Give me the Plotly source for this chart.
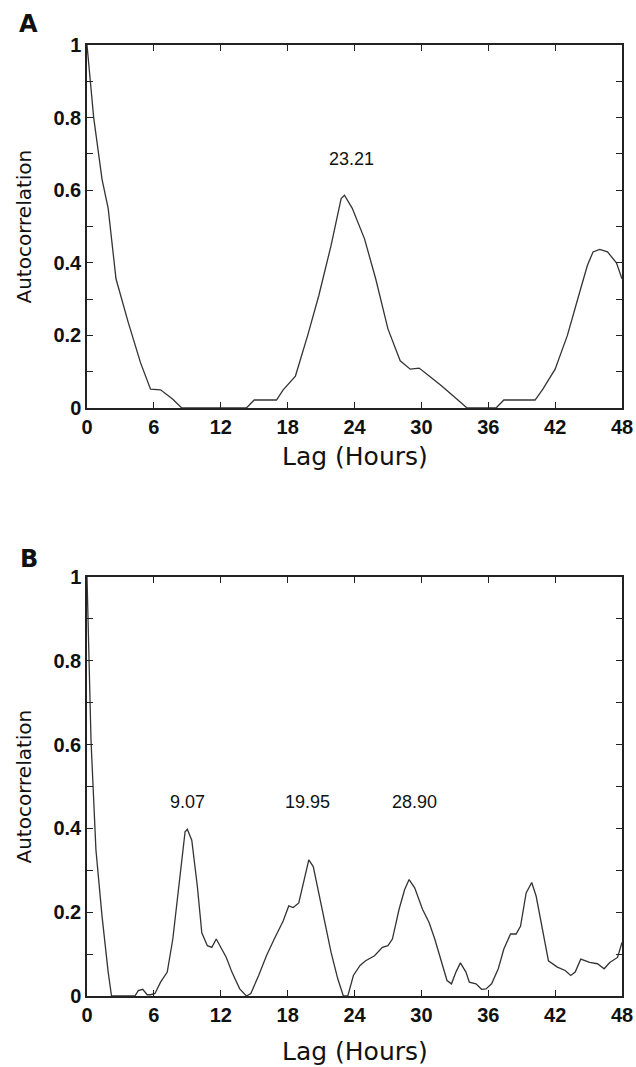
import plotly.graph_objects as go

# Panel A data (lag hours, autocorrelation)
lag_a = [0, 0.2, 0.6, 1.35, 1.9, 2.6, 3.7, 4.8, 5.7, 6.6, 7.7, 8.5, 14.3, 15.0, 17.0, 17.6, 18.7,
         19.8, 20.8, 21.9, 22.8, 23.1, 23.8, 24.9, 25.9, 27.0, 28.1, 29.0, 29.8, 30.7, 31.8, 33.2,
         34.1, 36.7, 37.4, 40.2, 40.9, 42.0, 43.1, 44.2, 44.9, 45.4, 46.0, 46.7, 47.5, 48.0]
acf_a = [1.0, 0.93, 0.8, 0.63, 0.55, 0.356, 0.236, 0.125, 0.052, 0.05, 0.024, 0.0, 0.0, 0.022,
         0.022, 0.05, 0.088, 0.2, 0.31, 0.448, 0.577, 0.586, 0.55, 0.466, 0.356, 0.218, 0.13,
         0.107, 0.11, 0.088, 0.061, 0.024, 0.0, 0.0, 0.022, 0.022, 0.052, 0.107, 0.2, 0.319,
         0.393, 0.43, 0.437, 0.43, 0.40, 0.356]

# Panel B data
lag_b = [0, 0.36, 0.8, 1.35, 1.9, 2.2, 4.3, 4.6, 5.0, 5.4, 5.7, 6.1, 6.6, 7.2, 7.7, 8.3, 8.8, 9.0,
         9.4, 9.9, 10.3, 10.8, 11.2, 11.6, 11.9, 12.5, 13.0, 13.7, 14.3, 14.7, 15.4, 16.1, 16.8,
         17.6, 18.1, 18.5, 19.0, 19.6, 19.9, 20.3, 20.8, 21.4, 21.9, 22.5, 23.0, 23.4, 23.9, 24.5,
         25.0, 25.8, 26.5, 27.0, 27.4, 28.0, 28.5, 28.9, 29.4, 30.1, 30.7, 31.2, 31.8, 32.3, 32.7,
         33.1, 33.5, 34.0, 34.3, 34.9, 35.4, 35.8, 36.3, 36.9, 37.4, 38.0, 38.5, 38.9, 39.4, 39.9,
         40.3, 40.9, 41.4, 42.2, 42.9, 43.4, 43.8, 44.3, 45.1, 45.8, 46.4, 46.9, 47.6, 48.0]
acf_b = [1.0, 0.61, 0.349, 0.19, 0.057, 0.0, 0.0, 0.013, 0.016, 0.003, 0.003, 0.006, 0.033, 0.057,
         0.136, 0.27, 0.392, 0.398, 0.372, 0.262, 0.151, 0.12, 0.116, 0.136, 0.12, 0.092, 0.057,
         0.017, 0.0, 0.006, 0.049, 0.096, 0.136, 0.179, 0.215, 0.211, 0.222, 0.293, 0.325, 0.309,
         0.246, 0.167, 0.104, 0.041, 0.0, 0.0, 0.049, 0.073, 0.084, 0.096, 0.116, 0.12, 0.136,
         0.207, 0.254, 0.278, 0.258, 0.207, 0.175, 0.136, 0.08, 0.037, 0.029, 0.057, 0.079, 0.057,
         0.033, 0.029, 0.016, 0.017, 0.029, 0.065, 0.112, 0.148, 0.148, 0.167, 0.246, 0.271, 0.238,
         0.159, 0.084, 0.069, 0.061, 0.049, 0.057, 0.088, 0.08, 0.077, 0.065, 0.08, 0.092, 0.128]

x_ticks = [0, 6, 12, 18, 24, 30, 36, 42, 48]
y_ticks = [0, 0.1, 0.2, 0.3, 0.4, 0.5, 0.6, 0.7, 0.8, 0.9, 1.0]
y_ticktext = ["0", "", "0.2", "", "0.4", "", "0.6", "", "0.8", "", "1"]

peaks_a = [(23.7, 0.685, "23.21")]
peaks_b = [(9.0, 0.464, "9.07"), (19.8, 0.464, "19.95"), (29.4, 0.464, "28.90")]

W, H = 636, 1067
FONT = "Liberation Sans, Arial, sans-serif"
WIDE = "DejaVu Sans, sans-serif"
X0, X1 = 87, 622
A_TOP, A_BOT = 45, 408
B_TOP, B_BOT = 577, 996

fig = go.Figure()
fig.add_trace(go.Scatter(x=lag_a, y=acf_a, mode="lines", line=dict(color="#333333", width=1.3),
                         xaxis="x", yaxis="y", showlegend=False))
fig.add_trace(go.Scatter(x=lag_b, y=acf_b, mode="lines", line=dict(color="#333333", width=1.3),
                         xaxis="x2", yaxis="y2", showlegend=False))

def xaxis(anchor):
    return dict(range=[0, 48], tickvals=x_ticks, ticks="inside", ticklen=6, tickcolor="#222",
                showline=True, linecolor="#222", linewidth=1.5, mirror="ticks",
                showgrid=False, zeroline=False, anchor=anchor, domain=[X0 / W, X1 / W],
                automargin=False,
                tickfont=dict(family=FONT, size=20, color="#111", weight="bold"))

def yaxis(anchor, top, bot):
    return dict(range=[0, 1], tickvals=y_ticks, ticktext=y_ticktext, ticks="inside", ticklen=6,
                tickcolor="#222", showline=True, linecolor="#222", linewidth=1.5, mirror="ticks",
                showgrid=False, zeroline=False, anchor=anchor, domain=[1 - bot / H, 1 - top / H],
                automargin=False,
                tickfont=dict(family=FONT, size=20, color="#111", weight="bold"))

fig.update_layout(
    template="none",
    width=W, height=H, plot_bgcolor="white", paper_bgcolor="white",
    margin=dict(l=0, r=0, t=0, b=0),
    xaxis=xaxis("y"), yaxis=yaxis("x", A_TOP, A_BOT),
    xaxis2=xaxis("y2"), yaxis2=yaxis("x2", B_TOP, B_BOT),
)

for (x, y, t) in peaks_a:
    fig.add_annotation(x=x, y=y, xref="x", yref="y", text=t, showarrow=False,
                       font=dict(family=FONT, size=18, color="#111"))
for (x, y, t) in peaks_b:
    fig.add_annotation(x=x, y=y, xref="x2", yref="y2", text=t, showarrow=False,
                       font=dict(family=FONT, size=18, color="#111"))

def px(xp, yp):
    return xp / W, 1 - yp / H

# panel letters
for letter, yp in (("A", 24), ("B", 559)):
    ax, ay = px(29, yp)
    fig.add_annotation(x=ax, y=ay, xref="paper", yref="paper", text="<b>%s</b>" % letter,
                       showarrow=False, xanchor="center", yanchor="middle",
                       font=dict(family=WIDE, size=24, color="#111"))

# axis titles
for top, bot, xt in ((A_TOP, A_BOT, 457), (B_TOP, B_BOT, 1051)):
    ax, ay = px(23, (top + bot) / 2)
    fig.add_annotation(x=ax, y=ay, xref="paper", yref="paper", text="Autocorrelation",
                       textangle=-90, showarrow=False, xanchor="center", yanchor="middle",
                       font=dict(family=WIDE, size=20, color="#111"))
    ax, ay = px((X0 + X1) / 2, xt)
    fig.add_annotation(x=ax, y=ay, xref="paper", yref="paper", text="Lag (Hours)",
                       showarrow=False, xanchor="center", yanchor="middle",
                       font=dict(family=WIDE, size=25, color="#111"))

fig.write_html("out.html", config={"displayModeBar": False},
               post_script="document.body.style.margin='0';document.body.style.overflow='hidden';")
